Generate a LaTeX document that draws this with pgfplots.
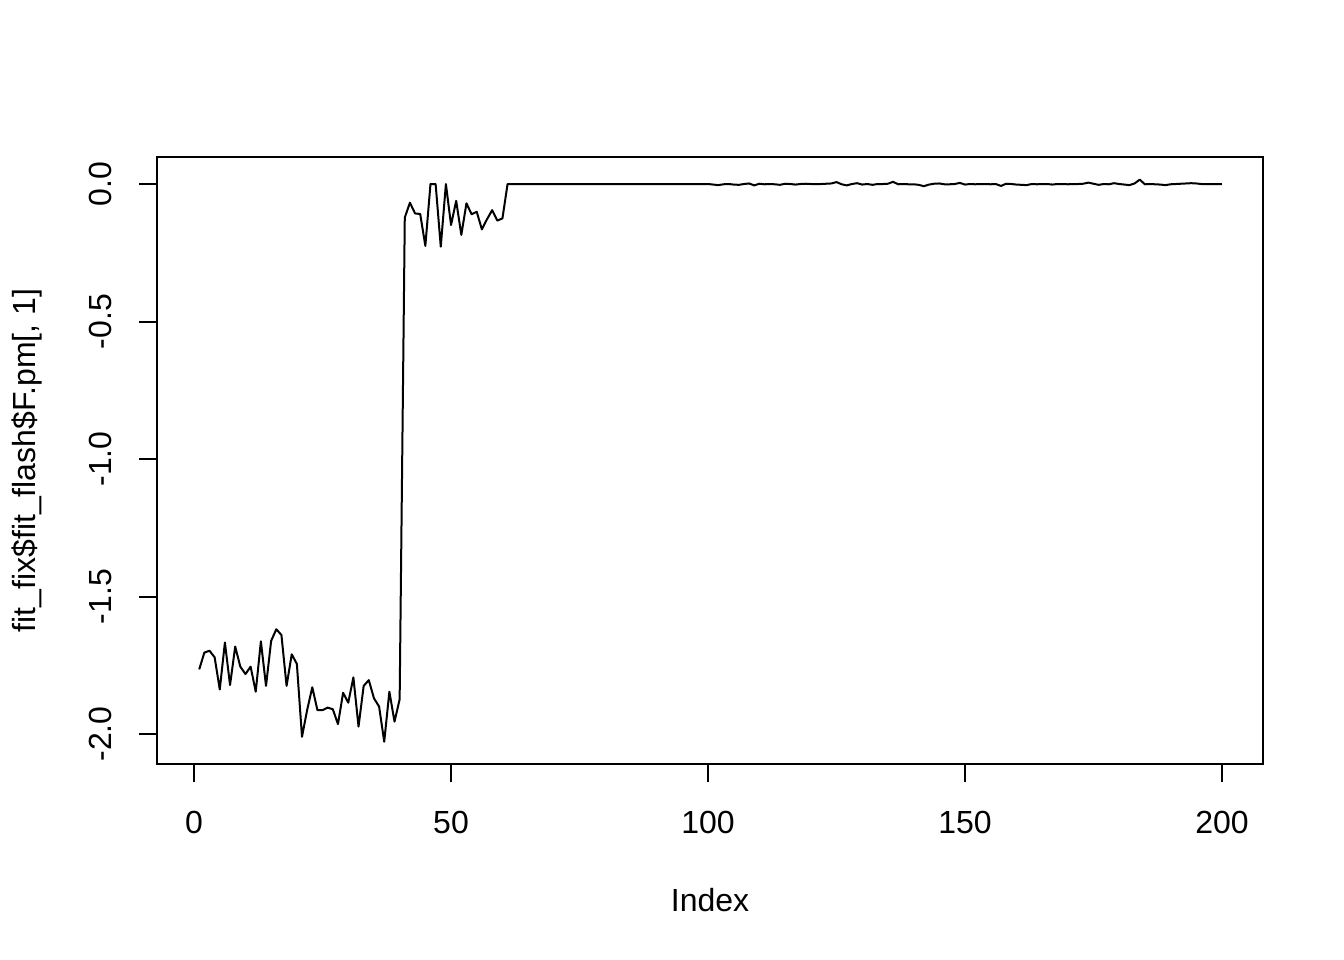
\documentclass[border=0pt]{standalone}
\usepackage{fontspec}
\setmainfont{Liberation Sans}
\usepackage{pgfplots}
\pgfplotsset{compat=1.18}
\begin{document}
\fontsize{12bp}{14.4bp}\selectfont
\begin{tikzpicture}
\path[use as bounding box] (0,0) rectangle (504bp,360bp);
\begin{axis}[
  at={(58.9bp,73.5bp)}, anchor=south west,
  scale only axis, width=414.75bp, height=227.6bp,
  xmin=-7.2, xmax=208.0, ymin=-2.109, ymax=0.098,
  axis line style={line width=0.75bp},
  every tick/.style={line width=0.75bp, black},
  tick align=outside, major tick length=6.75bp,
  xtick={0,50,100,150,200}, ytick={-2,-1.5,-1,-0.5,0},
  xtick pos=bottom, ytick pos=left,
  /pgf/number format/assume math mode=true,
  yticklabel={\pgfmathprintnumber[fixed,fixed zerofill,precision=1]{\tick}},
  xticklabel style={anchor=base, yshift=-19.15bp},
  yticklabel style={anchor=base, xshift=-10.15bp, rotate=90},
  xlabel={Index}, ylabel={fit\_fix\$fit\_flash\$F.pm[, 1]},
  xlabel style={at={(axis description cs:0.5,0)}, anchor=center, yshift=-51bp},
  ylabel style={at={(axis description cs:0,0.5)}, anchor=center, yshift=48.75bp},
  tick label style={font=\fontsize{12bp}{14.4bp}\selectfont},
  label style={font=\fontsize{12bp}{14.4bp}\selectfont},
]
\addplot[black, line width=0.75bp, line join=round] coordinates {
(1,-1.765)(2,-1.704)(3,-1.697)(4,-1.721)(5,-1.838)(6,-1.667)(7,-1.822)(8,-1.682)(9,-1.755)(10,-1.782)
(11,-1.755)(12,-1.846)(13,-1.663)(14,-1.825)(15,-1.661)(16,-1.619)(17,-1.640)(18,-1.825)(19,-1.710)(20,-1.745)
(21,-2.010)(22,-1.913)(23,-1.830)(24,-1.913)(25,-1.913)(26,-1.904)(27,-1.910)(28,-1.964)(29,-1.850)(30,-1.886)
(31,-1.794)(32,-1.973)(33,-1.825)(34,-1.804)(35,-1.870)(36,-1.900)(37,-2.028)(38,-1.846)(39,-1.955)(40,-1.874)
(41,-0.122)(42,-0.068)(43,-0.107)(44,-0.109)(45,-0.225)(46,0)(47,0)(48,-0.228)(49,0)(50,-0.149)
(51,-0.061)(52,-0.185)(53,-0.070)(54,-0.110)(55,-0.101)(56,-0.165)(57,-0.128)(58,-0.095)(59,-0.133)(60,-0.125)
(61,0)(62,0)(63,0)(64,0)(65,0)(66,0)(67,0)(68,0)(69,0)(70,0)
(71,0)(72,0)(73,0)(74,0)(75,0)(76,0)(77,0)(78,0)(79,0)(80,0)
(81,0)(82,0)(83,0)(84,0)(85,0)(86,0)(87,0)(88,0)(89,0)(90,0)
(91,0)(92,0)(93,0)(94,0)(95,0)(96,0)(97,0)(98,0)(99,0)(100,0)
(101,-0.002)(102,-0.004)(103,-0.001)(104,0)(105,-0.002)(106,-0.003)(107,0)(108,0.002)(109,-0.005)(110,0.001)
(111,-0.001)(112,0)(113,-0.001)(114,-0.003)(115,0.001)(116,0)(117,-0.002)(118,0)(119,0.001)(120,0)
(121,0)(122,0)(123,0.001)(124,0.002)(125,0.007)(126,-0.001)(127,-0.005)(128,0)(129,0.003)(130,-0.002)
(131,0)(132,-0.003)(133,0)(134,0)(135,0.001)(136,0.008)(137,-0.001)(138,0)(139,-0.001)(140,-0.001)
(141,-0.003)(142,-0.008)(143,-0.002)(144,0.001)(145,0.002)(146,-0.001)(147,-0.001)(148,0)(149,0.004)(150,-0.002)
(151,0)(152,-0.001)(153,0)(154,0)(155,-0.001)(156,0)(157,-0.007)(158,0.001)(159,0)(160,-0.002)
(161,-0.003)(162,-0.004)(163,0)(164,-0.001)(165,0)(166,0)(167,-0.002)(168,0)(169,0)(170,-0.001)
(171,0)(172,0)(173,0.001)(174,0.005)(175,0.001)(176,-0.003)(177,0)(178,-0.001)(179,0.003)(180,0)
(181,-0.002)(182,-0.004)(183,0.002)(184,0.016)(185,-0.001)(186,0)(187,-0.001)(188,-0.002)(189,-0.004)(190,-0.001)
(191,0)(192,0.001)(193,0.002)(194,0.003)(195,0.002)(196,0)(197,0)(198,0)(199,0)(200,0)
};
\end{axis}
\end{tikzpicture}
\end{document}
